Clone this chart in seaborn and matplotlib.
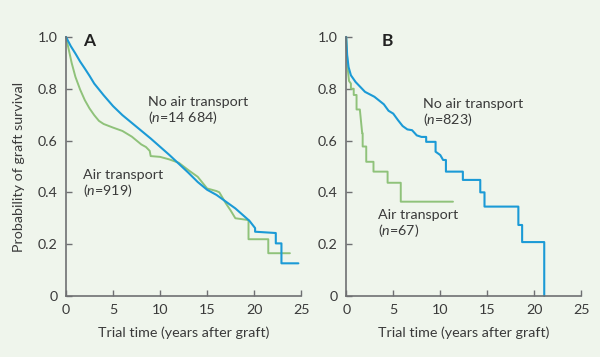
import matplotlib
matplotlib.use("Agg")
import matplotlib.pyplot as plt
import seaborn as sns
import pandas as pd

# Panel A: all recipients
a_none_t = [0, 0.5, 1, 1.5, 2, 2.5, 3, 4, 5, 6, 7, 8, 9, 10, 11, 12, 13, 14, 15, 16,
            17, 18, 19, 19.5, 20.1, 20.1, 22.3, 22.3, 22.9, 22.9, 24.7]
a_none_s = [1.0, 0.965, 0.936, 0.905, 0.878, 0.85, 0.82, 0.775, 0.733, 0.698, 0.668,
            0.638, 0.608, 0.576, 0.544, 0.51, 0.476, 0.44, 0.41, 0.39, 0.364, 0.338,
            0.306, 0.29, 0.262, 0.248, 0.243, 0.203, 0.203, 0.126, 0.126]
a_air_t = [0, 0.3, 0.6, 1, 1.5, 2, 2.5, 3, 3.5, 4, 5, 6, 7, 8, 8.5, 8.9, 9, 10, 11, 12,
           13, 14, 15, 16, 16.3, 17, 17.5, 18, 19.4, 19.4, 21.5, 21.5, 23.8]
a_air_s = [1.0, 0.95, 0.9, 0.846, 0.797, 0.756, 0.724, 0.698, 0.676, 0.664, 0.65,
           0.637, 0.615, 0.585, 0.575, 0.56, 0.54, 0.537, 0.527, 0.514, 0.486, 0.46,
           0.415, 0.405, 0.40, 0.357, 0.33, 0.30, 0.293, 0.219, 0.219, 0.165, 0.165]

# Panel B: subgroup
b_none_t = [0, 0.1, 0.25, 0.5, 1, 1.5, 2, 3, 4, 4.5, 5, 5.5, 6, 6.5, 7, 7.5, 8, 8.5,
            8.5, 9.5, 9.5, 10, 10.3, 10.6, 10.6, 12.4, 12.4, 14.25, 14.25, 14.7, 14.7,
            18.3, 18.3, 18.7, 18.7, 21.05, 21.05]
b_none_s = [1.0, 0.93, 0.884, 0.852, 0.826, 0.807, 0.788, 0.769, 0.74, 0.715, 0.704,
            0.679, 0.656, 0.643, 0.64, 0.62, 0.614, 0.614, 0.595, 0.595, 0.557, 0.544,
            0.525, 0.525, 0.48, 0.48, 0.448, 0.448, 0.40, 0.40, 0.345, 0.345, 0.274,
            0.274, 0.208, 0.208, 0.0]
b_air_t = [0, 0.15, 0.3, 0.5, 0.5, 0.8, 0.8, 1.1, 1.1, 1.45, 1.7, 1.75, 1.75, 2.13,
           2.13, 2.9, 2.9, 4.4, 4.4, 5.8, 5.8, 11.35]
b_air_s = [1.0, 0.88, 0.83, 0.82, 0.80, 0.80, 0.776, 0.776, 0.72, 0.72, 0.628, 0.628,
           0.577, 0.577, 0.518, 0.518, 0.48, 0.48, 0.437, 0.437, 0.364, 0.364]

x_ticks = [0, 5, 10, 15, 20, 25]
y_ticks = [0, 0.2, 0.4, 0.6, 0.8, 1.0]
y_tick_labels = ["0", "0.2", "0.4", "0.6", "0.8", "1.0"]

BLUE = "#1b9ad6"
GREEN = "#8fc27a"
BG = "#eff5ec"
SPINE = "#6f7072"
TEXT = "#3a3a3a"
FS = 10.3

sns.set_theme(style="ticks")
plt.rcParams["font.family"] = ["Lato", "DejaVu Sans"]
plt.rcParams["mathtext.fontset"] = "custom"
plt.rcParams["mathtext.rm"] = "Lato"
plt.rcParams["mathtext.it"] = "Lato:italic"

fig = plt.figure(figsize=(6.0, 3.57), dpi=100, facecolor=BG)
ax_a = fig.add_axes([0.110, 0.171, 0.392, 0.7255])
ax_b = fig.add_axes([0.577, 0.171, 0.392, 0.7255])

panels = [
    (ax_a, "A", (a_none_t, a_none_s), (a_air_t, a_air_s),
     ("No air transport", "($n$=14 684)", 8.7, 0.75),
     ("Air transport", "($n$=919)", 1.8, 0.467)),
    (ax_b, "B", (b_none_t, b_none_s), (b_air_t, b_air_s),
     ("No air transport", "($n$=823)", 8.2, 0.741),
     ("Air transport", "($n$=67)", 3.4, 0.313)),
]

for ax, letter, none_curve, air_curve, none_lab, air_lab in panels:
    ax.set_facecolor(BG)
    df_air = pd.DataFrame({"t": air_curve[0], "s": air_curve[1]})
    df_none = pd.DataFrame({"t": none_curve[0], "s": none_curve[1]})
    sns.lineplot(data=df_air, x="t", y="s", estimator=None, sort=False,
                 color=GREEN, lw=1.4, ax=ax, clip_on=False)
    sns.lineplot(data=df_none, x="t", y="s", estimator=None, sort=False,
                 color=BLUE, lw=1.5, ax=ax, clip_on=False)

    ax.set_xlim(0, 25)
    ax.set_ylim(0, 1.0)
    ax.set_xticks(x_ticks)
    ax.set_yticks(y_ticks)
    ax.set_yticklabels(y_tick_labels)
    ax.set_xlabel("Trial time (years after graft)", fontsize=FS, color=TEXT, labelpad=7)
    ax.set_ylabel("")
    sns.despine(ax=ax)
    for side in ("left", "bottom"):
        ax.spines[side].set_color(SPINE)
        ax.spines[side].set_linewidth(1.2)
    ax.tick_params(direction="in", length=4, width=1, color=SPINE,
                   labelsize=FS, labelcolor=TEXT, pad=6)

    ax.text(1.8 if letter == "A" else 3.8, 0.985, letter, fontsize=12.5,
            fontweight="bold", color="#222222", va="center", ha="left")
    for txt, sub, tx, ty in (none_lab, air_lab):
        ax.text(tx, ty, txt, fontsize=FS, color=TEXT, va="center", ha="left")
        ax.text(tx, ty - 0.06, sub, fontsize=FS, color=TEXT, va="center", ha="left")

ax_a.set_ylabel("Probability of graft survival", fontsize=FS, color=TEXT, labelpad=9)

fig.savefig("out.png", dpi=100, facecolor=BG)
